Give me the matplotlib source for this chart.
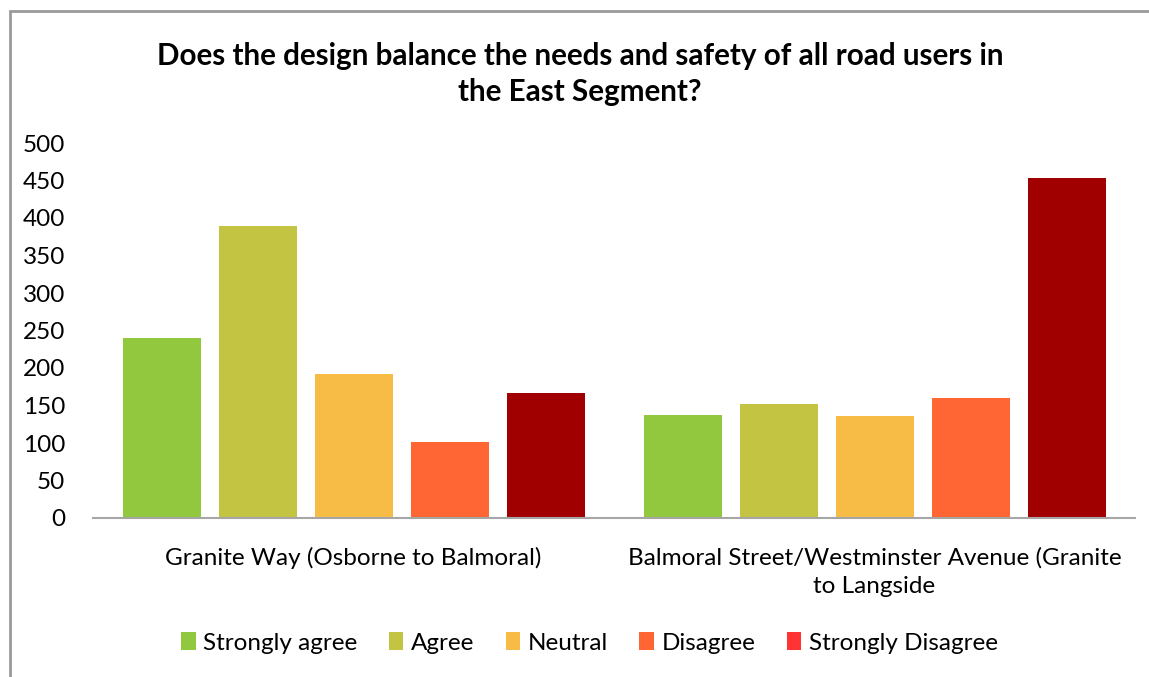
import numpy as np
import matplotlib.pyplot as plt
from matplotlib.patches import Patch, Rectangle

plt.rcParams['font.family'] = ['Lato', 'DejaVu Sans']

# datos
tramos = ['Granite Way (Osborne to Balmoral)',
          'Balmoral Street/Westminster Avenue (Granite\nto Langside']
respuestas = ['Strongly agree', 'Agree', 'Neutral', 'Disagree', 'Strongly Disagree']
granite_way = [240, 389, 192, 102, 167]
balmoral = [138, 152, 136, 160, 453]
colores_barra = ['#92C83E', '#C4C443', '#F7BC45', '#FF6633', '#A00000']
colores_leyenda = ['#92C83E', '#C4C443', '#F7BC45', '#FF6633', '#FF3333']
yticks = [0, 50, 100, 150, 200, 250, 300, 350, 400, 450, 500]

valores = np.array([granite_way, balmoral])

fig = plt.figure(figsize=(11.49, 6.77), dpi=100)
ax = fig.add_axes([93/1149, 1 - 518/677, 1042/1149, 375/677])

# borde del gráfico
fig.patches.append(Rectangle((10/1149, -0.1), 1.2, 1 - 11/677 + 0.1,
                             transform=fig.transFigure, fill=False,
                             edgecolor='#9A9A9A', linewidth=2))

centros = np.array([0.5, 1.5])
paso = 96/521
ancho = 78/521
for k in range(len(respuestas)):
    ax.bar(centros + (k - 2)*paso, valores[:, k], width=ancho,
           color=colores_barra[k], linewidth=0)

ax.set_xlim(0, 2)
ax.set_ylim(0, 500)
ax.set_yticks(yticks)
ax.set_xticks(centros)
ax.set_xticklabels(tramos, fontsize=17.5, linespacing=1.45)
ax.tick_params(axis='both', length=0, labelsize=17.5)
ax.tick_params(axis='y', pad=20)
ax.tick_params(axis='x', pad=21)
for lado in ['top', 'right', 'left']:
    ax.spines[lado].set_visible(False)
ax.spines['bottom'].set_color('#A6A6A6')
ax.spines['bottom'].set_linewidth(1.5)

fig.text(0.505, 1 - 74/677,
         'Does the design balance the needs and safety of all road users in\nthe East Segment?',
         ha='center', va='center', fontsize=21.3, fontweight='bold', linespacing=1.38)

handles = [Patch(facecolor=c, label=r) for c, r in zip(colores_leyenda, respuestas)]
fig.legend(handles=handles, loc='center', bbox_to_anchor=(0.513, 1 - 643/677),
           ncol=5, frameon=False, fontsize=17.5, handlelength=0.6, handleheight=0.7,
           handletextpad=0.3, columnspacing=1.3)

fig.savefig('out.png', dpi=100)
